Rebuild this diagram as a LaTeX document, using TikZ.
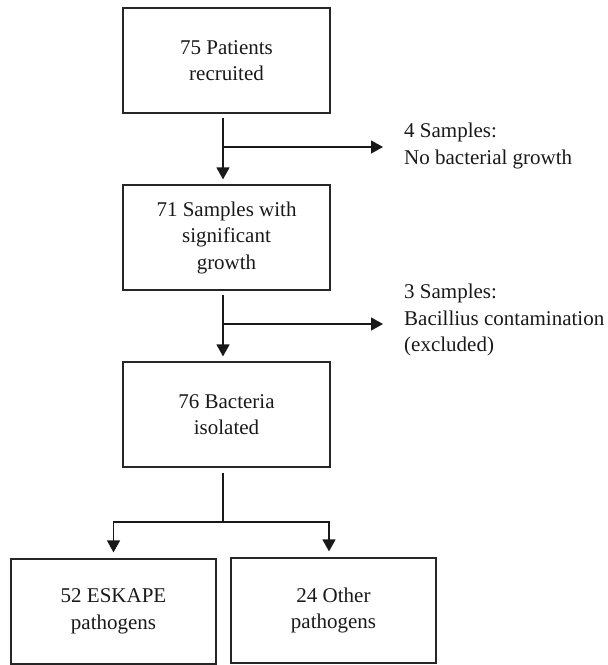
\documentclass[tikz,border=0pt]{standalone}
\usepackage{fontspec}
\setmainfont{Liberation Serif}
\usetikzlibrary{arrows.meta,positioning}
\tikzset{
  flowbox/.style={draw=black!85, line width=1.2pt, minimum width=207pt, minimum height=105pt, align=center, inner sep=0pt, text=black!90},
  note/.style={anchor=west, align=left, inner sep=0pt, text=black!90},
  link/.style={draw=black!90, line width=1.3pt},
  arrow/.style={link, -{Triangle[width=13pt,length=12pt]}},
}
\begin{document}
\begin{tikzpicture}[x=1pt, y=-1pt, font=\fontsize{21}{26.5}\selectfont]
                \useasboundingbox (0,0) rectangle (608,665);

                % Draw the boxes
                \node[flowbox] (patients) at (226.5,60.5) {75 Patients\\recruited};
                \node[flowbox] (samples) at (226.5,237.5) {71 Samples with\\significant\\growth};
                \node[flowbox] (bacteria) at (226.5,414.5) {76 Bacteria\\isolated};
                \node[flowbox, minimum width=205pt] (eskape) at (113.5,611.5) {52 ESKAPE\\pathogens};
                \node[flowbox, minimum width=205pt] (other) at (333.5,610.5) {24 Other\\pathogens};

                % Side notes for the removed samples
                \node[note] (nogrowth) at (404,146) {4 Samples:\\No bacterial growth};
                \node[note] (bacillus) at (404,320) {3 Samples:\\Bacillius contamination\\(excluded)};

                % Branch points on the main line
                \coordinate (split1) at (223,147);
                \coordinate (split2) at (223,324);
                \coordinate (split3) at (223,522);

                % Arrows down the main line
                \foreach \a/\b in {patients/samples, samples/bacteria}
                    \draw[arrow, shorten <=4pt, shorten >=5pt] ([xshift=-3.5pt]\a.south) -- ([xshift=-3.5pt]\b.north);

                % Arrows out to the notes
                \draw[arrow, shorten >=21pt] (split1) -- (split1 -| nogrowth.west);
                \draw[arrow, shorten >=21pt] (split2) -- (split2 -| bacillus.west);

                % Split into the two groups
                \draw[link, shorten <=5pt] ([xshift=-3.5pt]bacteria.south) -- (split3);
                \draw[arrow, shorten >=6pt] (split3) -| (eskape.north);
                \draw[arrow, shorten >=6pt] (split3) -| ([xshift=-4.5pt]other.north);
\end{tikzpicture}
\end{document}
